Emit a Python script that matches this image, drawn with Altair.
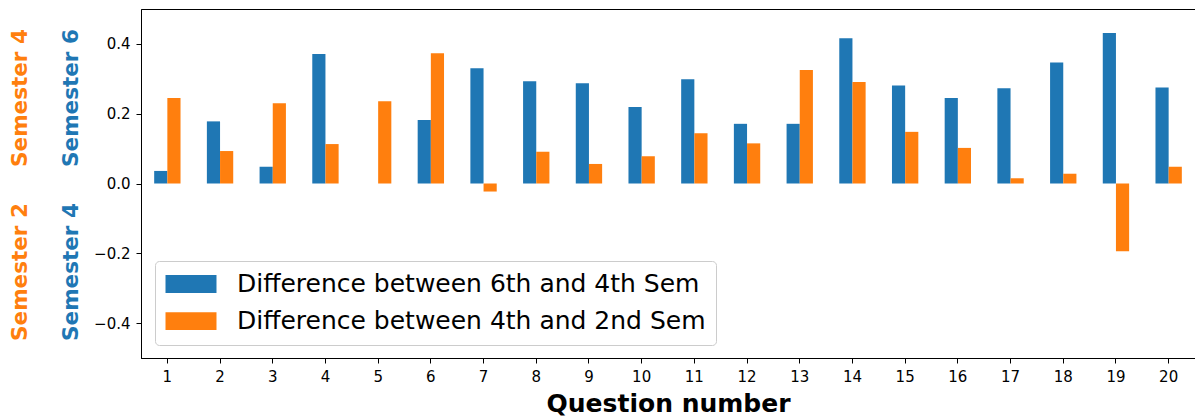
import altair as alt
import pandas as pd

questions = list(range(1, 21))
diff_6_4 = [0.036, 0.178, 0.048, 0.371, 0.0, 0.182, 0.330, 0.293, 0.287, 0.219,
            0.299, 0.171, 0.171, 0.416, 0.281, 0.245, 0.273, 0.347, 0.431, 0.275]
diff_4_2 = [0.245, 0.093, 0.230, 0.113, 0.236, 0.373, -0.023, 0.091, 0.056, 0.078,
            0.144, 0.115, 0.325, 0.291, 0.148, 0.102, 0.015, 0.028, -0.194, 0.048]
series_names = ["Difference between 6th and 4th Sem", "Difference between 4th and 2nd Sem"]
series_colors = ["#1f77b4", "#ff7f0e"]
y_ticks = [-0.4, -0.2, 0.0, 0.2, 0.4]

rows = []
for q, a, b in zip(questions, diff_6_4, diff_4_2):
    rows.append({"Question": q, "Series": series_names[0], "Value": a})
    rows.append({"Question": q, "Series": series_names[1], "Value": b})
df = pd.DataFrame(rows)

FONT = "DejaVu Sans"

bars = alt.Chart(df).mark_bar().encode(
    x=alt.X("Question:O", title="Question number",
            scale=alt.Scale(paddingInner=0.5, paddingOuter=0.25),
            axis=alt.Axis(labelAngle=0, titleFontSize=25, titleFontWeight="bold",
                          titleFont=FONT, titleColor="black", titlePadding=7,
                          labelPadding=6)),
    xOffset=alt.XOffset("Series:N", sort=series_names,
                        scale=alt.Scale(paddingInner=0, paddingOuter=0)),
    y=alt.Y("Value:Q", scale=alt.Scale(domain=[-0.5, 0.5], nice=False, zero=False),
            axis=alt.Axis(values=y_ticks, format=".1f", title=None, grid=False,
                          labelPadding=6)),
    color=alt.Color("Series:N", sort=series_names,
                    scale=alt.Scale(domain=series_names, range=series_colors),
                    legend=alt.Legend(title=None, orient="none", legendX=14, legendY=252,
                                      symbolType="M-2,-0.7L2,-0.7L2,0.7L-2,0.7Z",
                                      symbolSize=650, symbolStrokeWidth=0,
                                      symbolOffset=13,
                                      labelFontSize=25, labelFont=FONT, labelColor="black",
                                      labelLimit=0, padding=10, rowPadding=11.2,
                                      labelOffset=33, fillColor="white",
                                      strokeColor="#cccccc", cornerRadius=4)),
)

def side_label(text, color, xpix, ypix):
    return alt.Chart(pd.DataFrame({"label": [text]})).mark_text(
        angle=270, fontSize=21.5, fontWeight="bold", font=FONT, color=color,
        align="center", baseline="middle"
    ).encode(text="label:N", x=alt.value(xpix), y=alt.value(ypix))

side_texts = ["Semester 4", "Semester 6", "Semester 2", "Semester 4"]
labels = [
    side_label(side_texts[0], series_colors[1], -120.5, 89),
    side_label(side_texts[1], series_colors[0], -69, 89),
    side_label(side_texts[2], series_colors[1], -120.5, 263),
    side_label(side_texts[3], series_colors[0], -69, 263),
]

chart = alt.layer(bars, *labels).properties(
    width=1054, height=349,
    autosize=alt.AutoSizeParams(type="none"),
    padding={"left": 133, "top": 1, "right": 0, "bottom": 58},
).configure_view(
    stroke="black", strokeWidth=1
).configure_axis(
    domainColor="black", tickColor="black", labelColor="black",
    labelFont=FONT, labelFontSize=15, tickSize=5, domainWidth=1
)

chart.save("out.html", embed_options={"renderer": "svg", "actions": False})
